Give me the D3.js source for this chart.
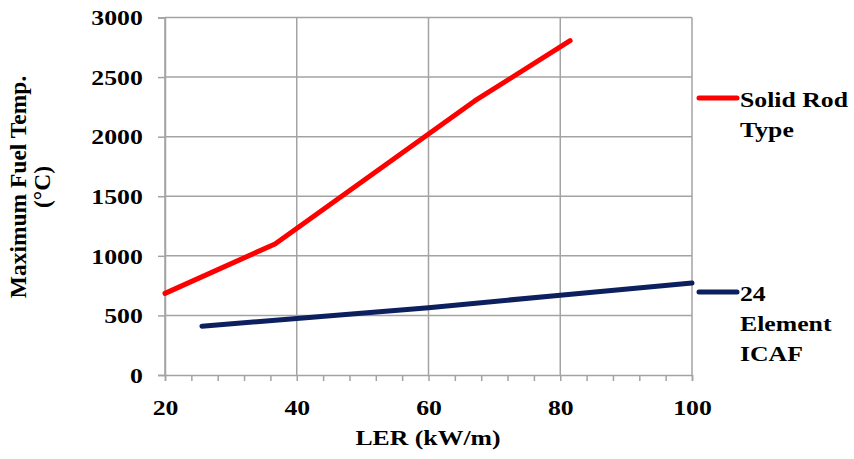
<!DOCTYPE html>
<html><head><meta charset="utf-8">
<script src="https://cdn.jsdelivr.net/npm/d3@7"></script>
<style>body{margin:0;background:#fff}svg{display:block}text{font-family:"Liberation Serif","Times New Roman",serif;font-weight:bold;fill:#000}</style>
</head><body>
<script>
const solidRodX = [20, 36.7, 67, 81.5];
const solidRodY = [685, 1100, 2300, 2805];
const icafX = [25.6, 40, 60, 80, 100];
const icafY = [410, 475, 565, 670, 772];
const xTicks = [20, 40, 60, 80, 100];
const yTicks = [0, 500, 1000, 1500, 2000, 2500, 3000];
const seriesNames = [["Solid Rod", "Type"], ["24", "Element", "ICAF"]];
const seriesColors = ["#ff0000", "#0c1f5e"];

const W = 854, H = 459;
const svg = d3.select("body").append("svg").attr("width", W).attr("height", H);
const x = d3.scaleLinear().domain([20, 100]).range([165, 692]);
const y = d3.scaleLinear().domain([0, 3000]).range([375, 17.5]);
const SX = 1.17;
const grid = "#a3a3a3";

// gridlines
svg.append("g").selectAll("line").data(yTicks.filter(d => d > 0)).join("line")
  .attr("x1", x(20)).attr("x2", x(100)).attr("y1", d => y(d)).attr("y2", d => y(d))
  .attr("stroke", grid).attr("stroke-width", 1.5);
svg.append("g").selectAll("line").data(xTicks).join("line")
  .attr("x1", d => x(d)).attr("x2", d => x(d)).attr("y1", y(0)).attr("y2", y(3000))
  .attr("stroke", grid).attr("stroke-width", 1.5);

// x axis
const xAxis = svg.append("g").attr("transform", `translate(0,${y(0)})`)
  .call(d3.axisBottom(x).tickValues(d3.range(20, 100.1, 4)).tickSize(6).tickFormat(""));
xAxis.select(".domain").attr("stroke", grid).attr("stroke-width", 1.5);
xAxis.selectAll(".tick line").attr("stroke", grid).attr("stroke-width", 1.5);
const xLab = svg.append("g").attr("transform", `translate(0,${y(0)})`)
  .call(d3.axisBottom(x).tickValues(xTicks).tickSize(0).tickPadding(0).tickFormat(d3.format("d")));
xLab.select(".domain").remove();
xLab.selectAll("text").attr("y", 40).attr("dy", 0).attr("font-size", 22)
  .attr("transform", `scale(${SX},1)`).style("font-family", '"Liberation Serif",serif').style("font-weight", "bold");

// y axis
const yAxis = svg.append("g").attr("transform", `translate(${x(20)},0)`)
  .call(d3.axisLeft(y).tickValues(yTicks).tickSize(7).tickPadding(9).tickFormat(d3.format("d")));
yAxis.select(".domain").attr("stroke", grid).attr("stroke-width", 1.5);
yAxis.selectAll(".tick line").attr("stroke", grid).attr("stroke-width", 1.5);
yAxis.selectAll("text").attr("font-size", 22).attr("x", -19).attr("dy", "0.33em")
  .attr("transform", `scale(${SX},1)`).style("font-family", '"Liberation Serif",serif').style("font-weight", "bold");

// lines
const line = d3.line().x(d => x(d[0])).y(d => y(d[1])).curve(d3.curveLinear);
const series = [d3.zip(solidRodX, solidRodY), d3.zip(icafX, icafY)];
svg.append("g").selectAll("path").data(series).join("path")
  .attr("d", line).attr("fill", "none")
  .attr("stroke", (d, i) => seriesColors[i]).attr("stroke-width", 5)
  .attr("stroke-linecap", "round").attr("stroke-linejoin", "round");

// legend
const legY = [98, 292];
seriesNames.forEach((names, i) => {
  svg.append("line").attr("x1", 699).attr("x2", 737).attr("y1", legY[i]).attr("y2", legY[i])
    .attr("stroke", seriesColors[i]).attr("stroke-width", 5).attr("stroke-linecap", "round");
  names.forEach((t, j) => {
    svg.append("text").attr("transform", `translate(740,${legY[i] + 9 + j * 30}) scale(${SX},1)`)
      .attr("font-size", 22).text(t);
  });
});

// axis titles
svg.append("text").attr("transform", `translate(428,445) scale(${SX},1)`)
  .attr("text-anchor", "middle").attr("font-size", 22).text("LER (kW/m)");
const yt = svg.append("text").attr("transform", "translate(26,187) rotate(-90)")
  .attr("text-anchor", "middle").attr("font-size", 23.5);
yt.append("tspan").attr("x", 0).attr("y", 0).text("Maximum Fuel Temp.");
yt.append("tspan").attr("x", 0).attr("y", 24).text("(°C)");
</script>
</body></html>
